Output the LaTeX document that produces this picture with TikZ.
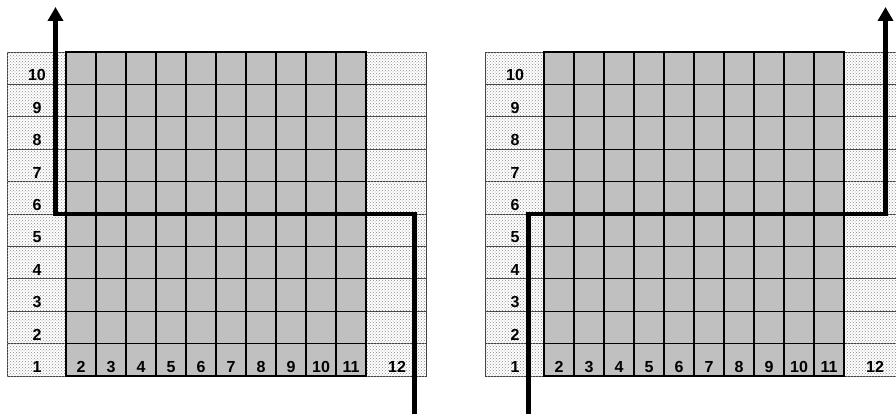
\documentclass[tikz,border=0pt]{standalone}
\usepackage{fontspec}
\setmainfont{Liberation Sans}
\usetikzlibrary{arrows.meta, patterns}
\definecolor{cellgray}{HTML}{C0C0C0}
\definecolor{dotgray}{HTML}{8C8C8C}

\begin{document}
\begin{tikzpicture}[
    x=1pt, y=-1pt,
    dotcell/.style={draw=black!75, line width=0.9pt, fill=white,
                    postaction={pattern=crosshatch dots, pattern color=dotgray}},
    graycell/.style={draw=black, line width=1.3pt, fill=cellgray},
    num/.style={anchor=base, inner sep=0pt, font=\fontsize{16}{16}\selectfont\bfseries},
    route/.style={line width=4.5pt, line join=miter, -{Triangle[length=14pt, width=15pt]}}
]
\useasboundingbox (0,0) rectangle (896,414);
\clip (0,0) rectangle (896,414);

% left panel at x=7, right panel at x=485
\foreach \p/\ox in {L/7, R/485} {
  \begin{scope}[xshift=\ox pt]
    \foreach \j in {1,...,10} {
      \draw[dotcell] (0,{376-32.4*\j}) rectangle (59,{376-32.4*(\j-1)});
      \draw[dotcell] (359,{376-32.4*\j}) rectangle (419,{376-32.4*(\j-1)});
      \foreach \c in {2,...,11}
        \draw[graycell] ({59+30*(\c-2)},{376-32.4*\j}) rectangle ({59+30*(\c-1)},{376-32.4*(\j-1)});
      \node[num] (\p-row\j) at (30,{372.5-32.4*(\j-1)}) {\j};
    }
    \foreach \c in {2,...,11}
      \node[num] (\p-col\c) at ({74+30*(\c-2)},372.5) {\c};
    \node[num] (\p-col12) at (390,372.5) {12};
  \end{scope}
}

% the two routes
\coordinate (L-in)    at (414.5,420);
\coordinate (L-turn)  at (414.5,214);
\coordinate (L-up)    at (55.5,214);
\coordinate (L-out)   at (55.5,7);
\coordinate (R-in)    at (528.5,420);
\coordinate (R-turn)  at (528.5,214);
\coordinate (R-up)    at (885.5,214);
\coordinate (R-out)   at (885.5,7);

\draw[route] (L-in) -- (L-turn) -- (L-up) -- (L-out);
\draw[route] (R-in) -- (R-turn) -- (R-up) -- (R-out);
\end{tikzpicture}
\end{document}
